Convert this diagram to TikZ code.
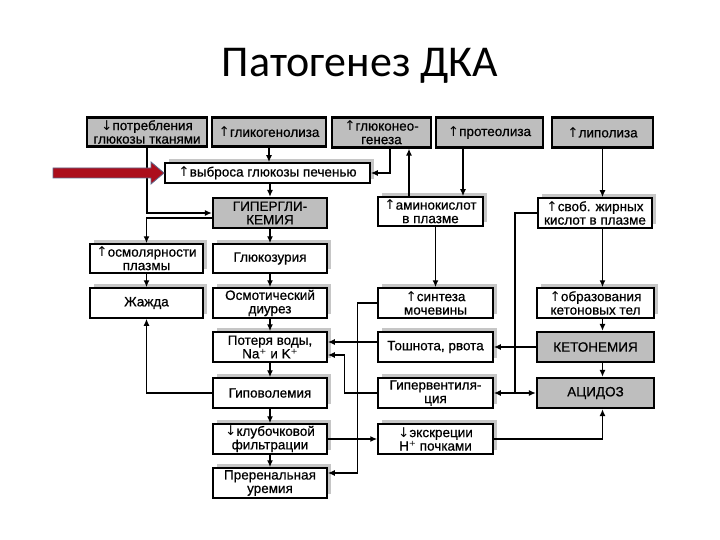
\documentclass[tikz,border=0pt]{standalone}
\usepackage{fontspec}
\setmainfont{Liberation Sans}[FakeBold=0.6]
\newfontfamily\titlefont{Carlito}
\newfontfamily\arrowfont{DejaVu Sans}
\newcommand{\upar}{{\arrowfont ↑}}
\newcommand{\dnar}{{\arrowfont ↓}}
\newcommand{\plusion}{{\arrowfont ⁺}}
\usetikzlibrary{arrows.meta,shadows}
\definecolor{boxgray}{RGB}{190,190,190}
\definecolor{shadowgray}{RGB}{198,198,198}
\definecolor{arrowred}{RGB}{172,14,28}
\definecolor{arrowedge}{RGB}{95,105,140}

\begin{document}
\begin{tikzpicture}[x=1pt, y=-1pt,
    >={Latex[length=7pt,width=6pt]},
    cell/.style={align=center, inner sep=0pt, minimum width=114pt, minimum height=30pt,
        font=\fontsize{13.5}{13.5}\selectfont},
    box/.style={cell, draw, line width=1.5pt, fill=white,
        drop shadow={shadow xshift=4pt, shadow yshift=4pt, fill=shadowgray, opacity=1}},
    graybox/.style={cell, draw, line width=2.2pt, fill=boxgray},
    link/.style={line width=1.5pt}]
    \fill[white] (0,0) rectangle (720,540);
    \useasboundingbox (0,0) rectangle (720,540);
    % title
    \node[font=\titlefont\fontsize{44}{50}\selectfont, anchor=base] (title) at (360,77) {Патогенез ДКА};
    % top row
    \node[graybox, minimum width=120pt, minimum height=29pt] (potr) at (147,132) {\dnar потребления\\глюкозы тканями};
    \node[graybox, minimum height=29pt] (glycogen) at (269,132) {\upar гликогенолиза};
    \node[graybox, minimum width=99pt] (gluconeo) at (381.5,132.5) {\upar глюконео-\\генеза};
    \node[graybox, minimum width=107pt] (proteol) at (489.5,132.5) {\upar протеолиза};
    \node[graybox, minimum width=101pt] (lipol) at (602.5,132.5) {\upar липолиза};
    % second row
    \node[box, minimum width=205pt, minimum height=20pt] (release) at (267.5,173) {\upar выброса глюкозы печенью};
    \node[graybox] (hyperglyc) at (270,213) {ГИПЕРГЛИ-\\КЕМИЯ};
    \node[box, minimum width=105pt, minimum height=29pt] (amino) at (430.5,211.5) {\upar аминокислот\\в плазме};
    \node[box] (ffa) at (595,213) {\upar своб. жирных\\кислот в плазме};
    % left column
    \node[box, minimum width=113pt, minimum height=29pt] (osmol) at (146.5,258.5) {\upar осмолярности\\плазмы};
    \node[box, minimum width=113pt] (thirst) at (146.5,303) {Жажда};
    % middle column
    \node[box, minimum height=29pt] (glucosuria) at (270,258.5) {Глюкозурия};
    \node[box] (diuresis) at (270,303) {Осмотический\\диурез};
    \node[box] (loss) at (270,347) {Потеря воды,\\Na\plusion{} и K\plusion};
    \node[box] (hypovol) at (270,393) {Гиповолемия};
    \node[box] (gfr) at (270,439) {\dnar клубочковой\\фильтрации};
    \node[box] (uremia) at (270,483) {Преренальная\\уремия};
    % right columns
    \node[box, minimum width=115pt] (urea) at (435.5,303) {\upar синтеза\\мочевины};
    \node[box, minimum width=115pt] (vomit) at (435.5,347) {Тошнота, рвота};
    \node[box, minimum width=115pt] (hypervent) at (435.5,393) {Гипервентиля-\\ция};
    \node[box, minimum width=115pt] (hexcr) at (435.5,439) {\dnar экскреции\\H\plusion{} почками};
    \node[box, minimum width=117pt] (ketoform) at (595.5,303) {\upar образования\\кетоновых тел};
    \node[graybox, minimum width=117pt] (ketonemia) at (595.5,347) {КЕТОНЕМИЯ};
    \node[graybox, minimum width=117pt] (acidosis) at (595.5,393) {АЦИДОЗ};
    \coordinate (split) at (515,393);

    % glucose branch
    \draw[link, ->] (glycogen.south) -- (glycogen.south |- release.north);
    \draw[link, ->] (hyperglyc |- release.south) -- (hyperglyc.north);
    \draw[link, ->] (potr.south) |- (hyperglyc.west);
    \draw[link, ->] ([xshift=8.5pt]gluconeo.south) |- (release.east);
    \draw[link, ->] ([xshift=-21.5pt]amino.north) -- ([xshift=-21.5pt]amino.north |- gluconeo.south);
    \draw[link, ->] ([xshift=-26.5pt]proteol.south) -- ([xshift=-26.5pt]proteol.south |- amino.north);
    \draw[link, ->] (urea |- amino.south) -- (urea.north);
    \draw[link, ->] ([yshift=-5pt]hyperglyc.west) -| (osmol.north);
    \draw[link, ->] (hyperglyc.south) -- (glucosuria.north);
    \draw[link, ->] (osmol.south) -- (thirst.north);
    \draw[link, ->] (glucosuria.south) -- (diuresis.north);
    \draw[link, ->] (diuresis.south) -- (loss.north);
    \draw[link, ->] (loss.south) -- (hypovol.north);
    \draw[link, ->] (hypovol.south) -- (gfr.north);
    \draw[link, ->] (gfr.south) -- (uremia.north);
    \draw[link, ->] (hypovol.west) -| (thirst.south);
    % ketone branch
    \draw[link, ->] (lipol.south) -- (lipol.south |- ffa.north);
    \draw[link, ->] (lipol |- ffa.south) -- (lipol |- ketoform.north);
    \draw[link, ->] (lipol |- ketoform.south) -- (lipol |- ketonemia.north);
    \draw[link, ->] (lipol |- ketonemia.south) -- (lipol |- acidosis.north);
    \draw[link] (ffa.west) -| (split);
    \draw[link, ->] (split) -- (hypervent.east);
    \draw[link, ->] (split) -- (acidosis.west);
    \draw[link, ->] (ketonemia.west) -- (vomit.east);
    \draw[link, ->] ([yshift=5pt]vomit.west) -- ([yshift=5pt]loss.east);
    \draw[link, ->] (hypervent.west) -- ++(-33,0) |- ([yshift=-8pt]loss.east);
    \draw[link, ->] (urea.west) -- ++(-20,0) |- ([yshift=10pt]uremia.east);
    \draw[link, ->] (gfr.east) -- (hexcr.west);
    \draw[link, ->] (hexcr.east) -| (lipol |- acidosis.south);
    % red pointer
    \filldraw[fill=arrowred, draw=arrowedge, line width=0.8pt]
        (53,168) -- (151,168) -- (151,162) -- (164,173) -- (151,184) -- (151,178) -- (53,178) -- cycle;
\end{tikzpicture}
\end{document}
